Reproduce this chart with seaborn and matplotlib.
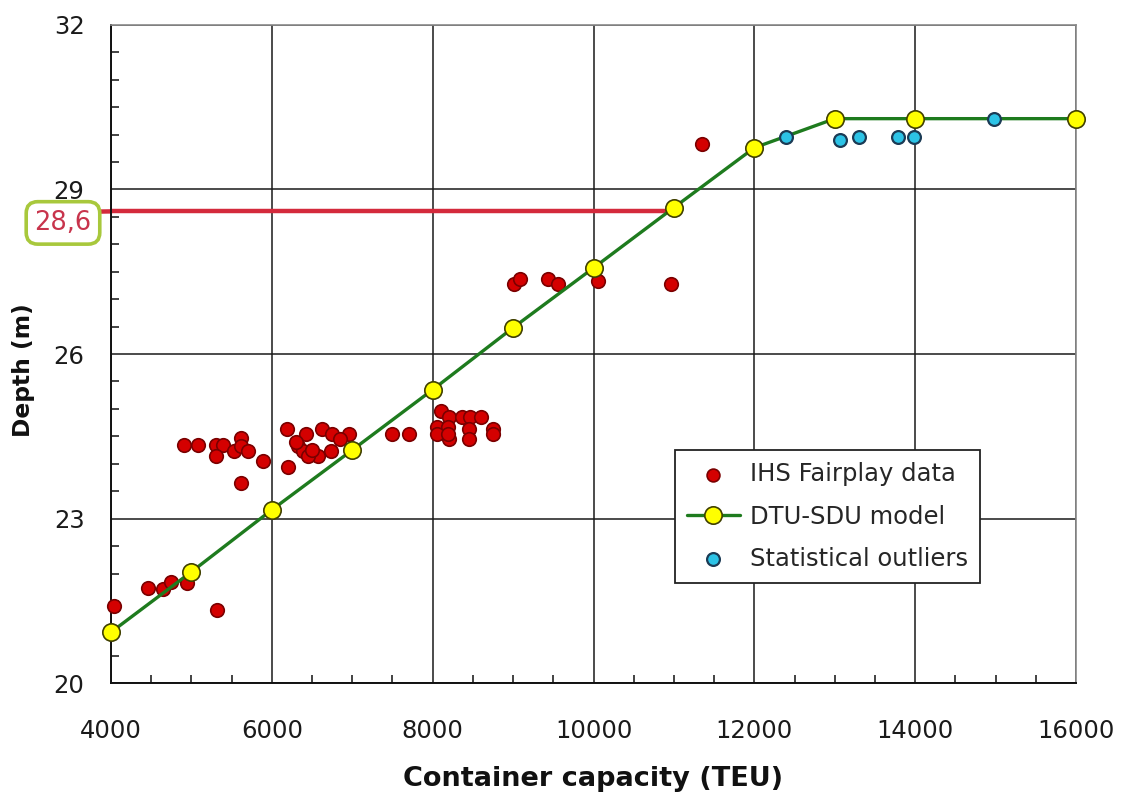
import numpy as np
import pandas as pd
import matplotlib
matplotlib.use("Agg")
import matplotlib.pyplot as plt
import seaborn as sns
from matplotlib.ticker import MultipleLocator

# ---- data ----
ihs_teu = [4040, 4460, 4650, 4750, 4940, 5320,
           4910, 5080, 5300, 5390, 5300, 5530, 5615, 5615, 5700, 5890, 5615,
           6190, 6420, 6630, 6750, 6960, 6320, 6390, 6580, 6730, 6200, 6450,
           6300, 6500, 6850,
           7500, 7710,
           8100, 8200, 8370, 8470, 8600, 8060, 8190, 8200, 8450, 8450, 8750, 8750,
           8060, 8190,
           9010, 9090, 9440, 9560, 10050, 10960, 11350]
ihs_depth = [21.40, 21.73, 21.72, 21.84, 21.82, 21.33,
             24.34, 24.34, 24.34, 24.34, 24.14, 24.23, 24.47, 24.32, 24.23, 24.05, 23.65,
             24.64, 24.54, 24.64, 24.54, 24.54, 24.32, 24.23, 24.14, 24.23, 23.94, 24.14,
             24.40, 24.25, 24.45,
             24.54, 24.54,
             24.96, 24.85, 24.85, 24.85, 24.85, 24.67, 24.67, 24.45, 24.64, 24.45, 24.64, 24.54,
             24.54, 24.54,
             27.28, 27.37, 27.37, 27.28, 27.34, 27.28, 29.83]

model_teu = [4000, 5000, 6000, 7000, 8000, 9000, 10000, 11000, 12000, 13000, 14000, 16000]
model_depth = [20.93, 22.03, 23.16, 24.25, 25.35, 26.48, 27.57, 28.67, 29.76, 30.29, 30.29, 30.29]

outlier_teu = [12390, 13060, 13300, 13780, 13990, 14980]
outlier_depth = [29.95, 29.91, 29.95, 29.95, 29.95, 30.29]

marked_depth = 28.6
marked_teu = 11000
marked_label = "28,6"

x_ticks = [4000, 6000, 8000, 10000, 12000, 14000, 16000]
y_ticks = [20, 23, 26, 29, 32]

# ---- plot ----
sns.set_theme(style="white")
plt.rcParams['font.family'] = ['DejaVu Sans']

fig = plt.figure(figsize=(11.23, 8.01), dpi=100)
ax = fig.add_axes([0.0988, 0.147, 0.8594, 0.822])

df_ihs = pd.DataFrame({"teu": ihs_teu, "depth": ihs_depth})
df_model = pd.DataFrame({"teu": model_teu, "depth": model_depth})
df_out = pd.DataFrame({"teu": outlier_teu, "depth": outlier_depth})

ax.grid(True, which="major", color="#1a1a1a", linewidth=1.1)
ax.set_axisbelow(True)

# red reference line at the marked depth
ax.plot([model_teu[0], marked_teu], [marked_depth, marked_depth], color="#d42a3c",
        linewidth=3.2, zorder=2, solid_capstyle="butt")

sns.lineplot(data=df_model, x="teu", y="depth", ax=ax, color="#1e7b1e",
             linewidth=2.4, marker="o", markersize=12.5, markerfacecolor="#ffff00",
             markeredgecolor="#404000", markeredgewidth=1.2, zorder=4,
             label="DTU-SDU model")
sns.scatterplot(data=df_ihs, x="teu", y="depth", ax=ax, s=95, color="#d40000",
                edgecolor="#7a0000", linewidth=1.2, zorder=3, label="IHS Fairplay data")
sns.scatterplot(data=df_out, x="teu", y="depth", ax=ax, s=85, color="#2cc3e6",
                edgecolor="#1b3b55", linewidth=1.6, zorder=5, label="Statistical outliers")

for art in list(ax.lines) + list(ax.collections):
    art.set_clip_on(False)

ax.set_xlim(4000, 16000)
ax.set_ylim(20, 32)
ax.set_xticks(x_ticks)
ax.set_yticks(y_ticks)
ax.xaxis.set_minor_locator(MultipleLocator(500))
ax.yaxis.set_minor_locator(MultipleLocator(0.5))
ax.tick_params(axis="both", which="major", direction="in", length=0, labelsize=17.5,
               colors="#1a1a1a")
ax.tick_params(axis="x", which="major", pad=26)
ax.tick_params(axis="y", which="major", pad=19)
ax.tick_params(axis="both", which="minor", direction="in", length=6, width=1.1,
               color="#111111", bottom=True, left=True)

for side in ["left", "bottom"]:
    ax.spines[side].set_color("#111111")
    ax.spines[side].set_linewidth(1.4)
for side in ["top", "right"]:
    ax.spines[side].set_color("#8a8a8a")
    ax.spines[side].set_linewidth(1.2)

ax.set_xlabel("Container capacity (TEU)", fontsize=19.5, fontweight="bold",
              labelpad=16, color="#111111")
ax.set_ylabel("Depth (m)", fontsize=16.8, fontweight="bold", color="#111111")
ax.yaxis.set_label_coords(-0.079, 0.476)

# label box for 28,6, joined to the red line
ax.annotate(marked_label, xy=(model_teu[0], marked_depth), xycoords="data",
            xytext=(-0.0497, marked_depth - 0.21), textcoords=ax.get_yaxis_transform(),
            ha="center", va="center", fontsize=18.5, color="#c8344c",
            bbox=dict(boxstyle="round,pad=0.32,rounding_size=0.45", facecolor="white",
                      edgecolor="#a8c83c", linewidth=2.6),
            arrowprops=dict(arrowstyle="-", color="#d42a3c", linewidth=3.2,
                            shrinkA=0, shrinkB=0, relpos=(0.98, 0.93)),
            annotation_clip=False, zorder=2)

handles, labels = ax.get_legend_handles_labels()
order = [labels.index("IHS Fairplay data"), labels.index("DTU-SDU model"),
         labels.index("Statistical outliers")]
leg = ax.legend([handles[i] for i in order], [labels[i] for i in order],
                loc="upper left", bbox_to_anchor=(0.584, 0.354), fontsize=17.5,
                frameon=True, fancybox=False, edgecolor="#222222", framealpha=1,
                borderpad=0.5, handlelength=2.2, handletextpad=0.4,
                labelspacing=0.75, borderaxespad=0)
leg.get_frame().set_linewidth(1.3)
for h in leg.legend_handles:
    try:
        h.set_sizes([85])
    except AttributeError:
        pass

fig.savefig("out.png", dpi=100, facecolor="white")
